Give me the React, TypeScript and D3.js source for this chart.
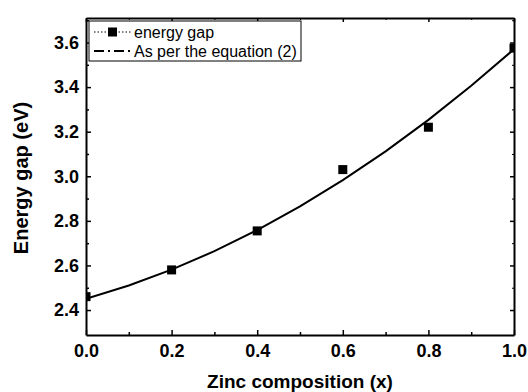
import { useEffect, useRef } from "react"
import * as d3 from "d3"

// measured band gap points
const compX = [0, 0.2, 0.4, 0.6, 0.8, 1.0]
const gapEv = [2.46, 2.58, 2.755, 3.03, 3.22, 3.575]

// curve from equation (2)
const eqX = [0, 0.1, 0.2, 0.3, 0.4, 0.5, 0.6, 0.7, 0.8, 0.9, 1.0]
const eqEv = [2.45, 2.51, 2.581, 2.664, 2.759, 2.865, 2.983, 3.112, 3.253, 3.406, 3.57]

const xTicks = [0, 0.2, 0.4, 0.6, 0.8, 1.0]
const yTicks = [2.4, 2.6, 2.8, 3.0, 3.2, 3.4, 3.6]

const W = 528
const H = 392

export default function App() {
  const ref = useRef<SVGSVGElement>(null)

  useEffect(() => {
    if (!ref.current) return
    const svg = d3.select(ref.current)
    svg.selectAll("*").remove()

    const m = { left: 86, right: 514, top: 18, bottom: 335 }
    const x = d3.scaleLinear().domain([0, 1]).range([m.left, m.right])
    const y = d3.scaleLinear().domain([2.288, 3.71]).range([m.bottom, m.top])
    const font = "Arial, 'Liberation Sans', sans-serif"

    svg.append("defs").append("clipPath").attr("id", "plot-clip")
      .append("rect")
      .attr("x", m.left).attr("y", m.top)
      .attr("width", m.right - m.left).attr("height", m.bottom - m.top)

    const g = svg.append("g")

    // equation curve
    const line = d3.line<number>()
      .x((_, i) => x(eqX[i]))
      .y(d => y(d))
    g.append("path")
      .datum(eqEv)
      .attr("clip-path", "url(#plot-clip)")
      .attr("fill", "none")
      .attr("stroke", "#000")
      .attr("stroke-width", 2)
      .attr("d", line)

    // squares
    const s = 9
    g.append("g").attr("clip-path", "url(#plot-clip)")
      .selectAll("rect")
      .data(gapEv)
      .enter().append("rect")
      .attr("x", (_, i) => x(compX[i]) - s / 2)
      .attr("y", d => y(d) - s / 2)
      .attr("width", s).attr("height", s)
      .attr("fill", "#000")

    // axes (all four sides, ticks inward)
    const minorX = d3.range(0.1, 1, 0.2)
    const minorY = d3.range(2.5, 3.7, 0.2)
    const axisStyle = (sel: d3.Selection<SVGGElement, unknown, null, undefined>) => {
      sel.selectAll(".domain").attr("stroke-width", 2)
      sel.selectAll("line").attr("stroke-width", 1.5)
    }
    const labelStyle = (sel: d3.Selection<SVGGElement, unknown, null, undefined>) => {
      sel.selectAll("text").attr("font-family", font).attr("font-size", 18)
        .attr("font-weight", "bold").attr("fill", "#000")
    }

    const bottom = g.append("g").attr("transform", `translate(0,${m.bottom})`)
      .call(d3.axisBottom(x).tickValues(xTicks).tickSize(-5).tickSizeOuter(0).tickPadding(9)
        .tickFormat(d => d3.format(".1f")(d as number)))
    labelStyle(bottom)
    axisStyle(bottom)
    g.append("g").attr("transform", `translate(0,${m.bottom})`)
      .call(d3.axisBottom(x).tickValues(minorX).tickSize(-3).tickSizeOuter(0).tickFormat(() => ""))
      .call(sel => { sel.select(".domain").remove(); sel.selectAll("line").attr("stroke-width", 1.5) })

    const top = g.append("g").attr("transform", `translate(0,${m.top})`)
      .call(d3.axisTop(x).tickValues(xTicks).tickSize(-4).tickSizeOuter(0).tickFormat(() => ""))
    axisStyle(top)
    g.append("g").attr("transform", `translate(0,${m.top})`)
      .call(d3.axisTop(x).tickValues(minorX).tickSize(-2).tickSizeOuter(0).tickFormat(() => ""))
      .call(sel => { sel.select(".domain").remove(); sel.selectAll("line").attr("stroke-width", 1) })

    const left = g.append("g").attr("transform", `translate(${m.left},0)`)
      .call(d3.axisLeft(y).tickValues(yTicks).tickSize(-5).tickSizeOuter(0).tickPadding(7)
        .tickFormat(d => d3.format(".1f")(d as number)))
    labelStyle(left)
    axisStyle(left)
    g.append("g").attr("transform", `translate(${m.left},0)`)
      .call(d3.axisLeft(y).tickValues(minorY).tickSize(-3).tickSizeOuter(0).tickFormat(() => ""))
      .call(sel => { sel.select(".domain").remove(); sel.selectAll("line").attr("stroke-width", 1.5) })

    const right = g.append("g").attr("transform", `translate(${m.right},0)`)
      .call(d3.axisRight(y).tickValues(yTicks).tickSize(-4).tickSizeOuter(0).tickFormat(() => ""))
    axisStyle(right)
    g.append("g").attr("transform", `translate(${m.right},0)`)
      .call(d3.axisRight(y).tickValues(minorY).tickSize(-2).tickSizeOuter(0).tickFormat(() => ""))
      .call(sel => { sel.select(".domain").remove(); sel.selectAll("line").attr("stroke-width", 1) })

    // axis titles
    svg.append("text")
      .attr("x", 300).attr("y", 388)
      .attr("text-anchor", "middle")
      .attr("font-family", font).attr("font-size", 19).attr("font-weight", "bold")
      .text("Zinc composition (x)")
    svg.append("text")
      .attr("transform", `translate(28,178) rotate(-90)`)
      .attr("text-anchor", "middle")
      .attr("font-family", font).attr("font-size", 20).attr("font-weight", "bold")
      .text("Energy gap (eV)")

    // legend
    const lg = svg.append("g")
    lg.append("rect")
      .attr("x", 89).attr("y", 21).attr("width", 212).attr("height", 40)
      .attr("fill", "#fff").attr("stroke", "#000").attr("stroke-width", 1)
    lg.append("line")
      .attr("x1", 94).attr("x2", 131).attr("y1", 32).attr("y2", 32)
      .attr("stroke", "#000").attr("stroke-width", 1).attr("stroke-dasharray", "1.5,2")
    lg.append("rect")
      .attr("x", 108).attr("y", 27.5).attr("width", 9).attr("height", 9).attr("fill", "#000")
    lg.append("line")
      .attr("x1", 94).attr("x2", 131).attr("y1", 51).attr("y2", 51)
      .attr("stroke", "#000").attr("stroke-width", 2).attr("stroke-dasharray", "10,4,2,4")
    lg.append("text").attr("x", 134).attr("y", 38)
      .attr("font-family", font).attr("font-size", 16).text("energy gap")
    lg.append("text").attr("x", 134).attr("y", 57)
      .attr("font-family", font).attr("font-size", 16).text("As per the equation (2)")
  }, [])

  return (
    <div style={{ position: "fixed", left: 0, top: 0 }}>
      <svg ref={ref} width={W} height={H} style={{ display: "block", background: "#fff" }} />
    </div>
  )
}
